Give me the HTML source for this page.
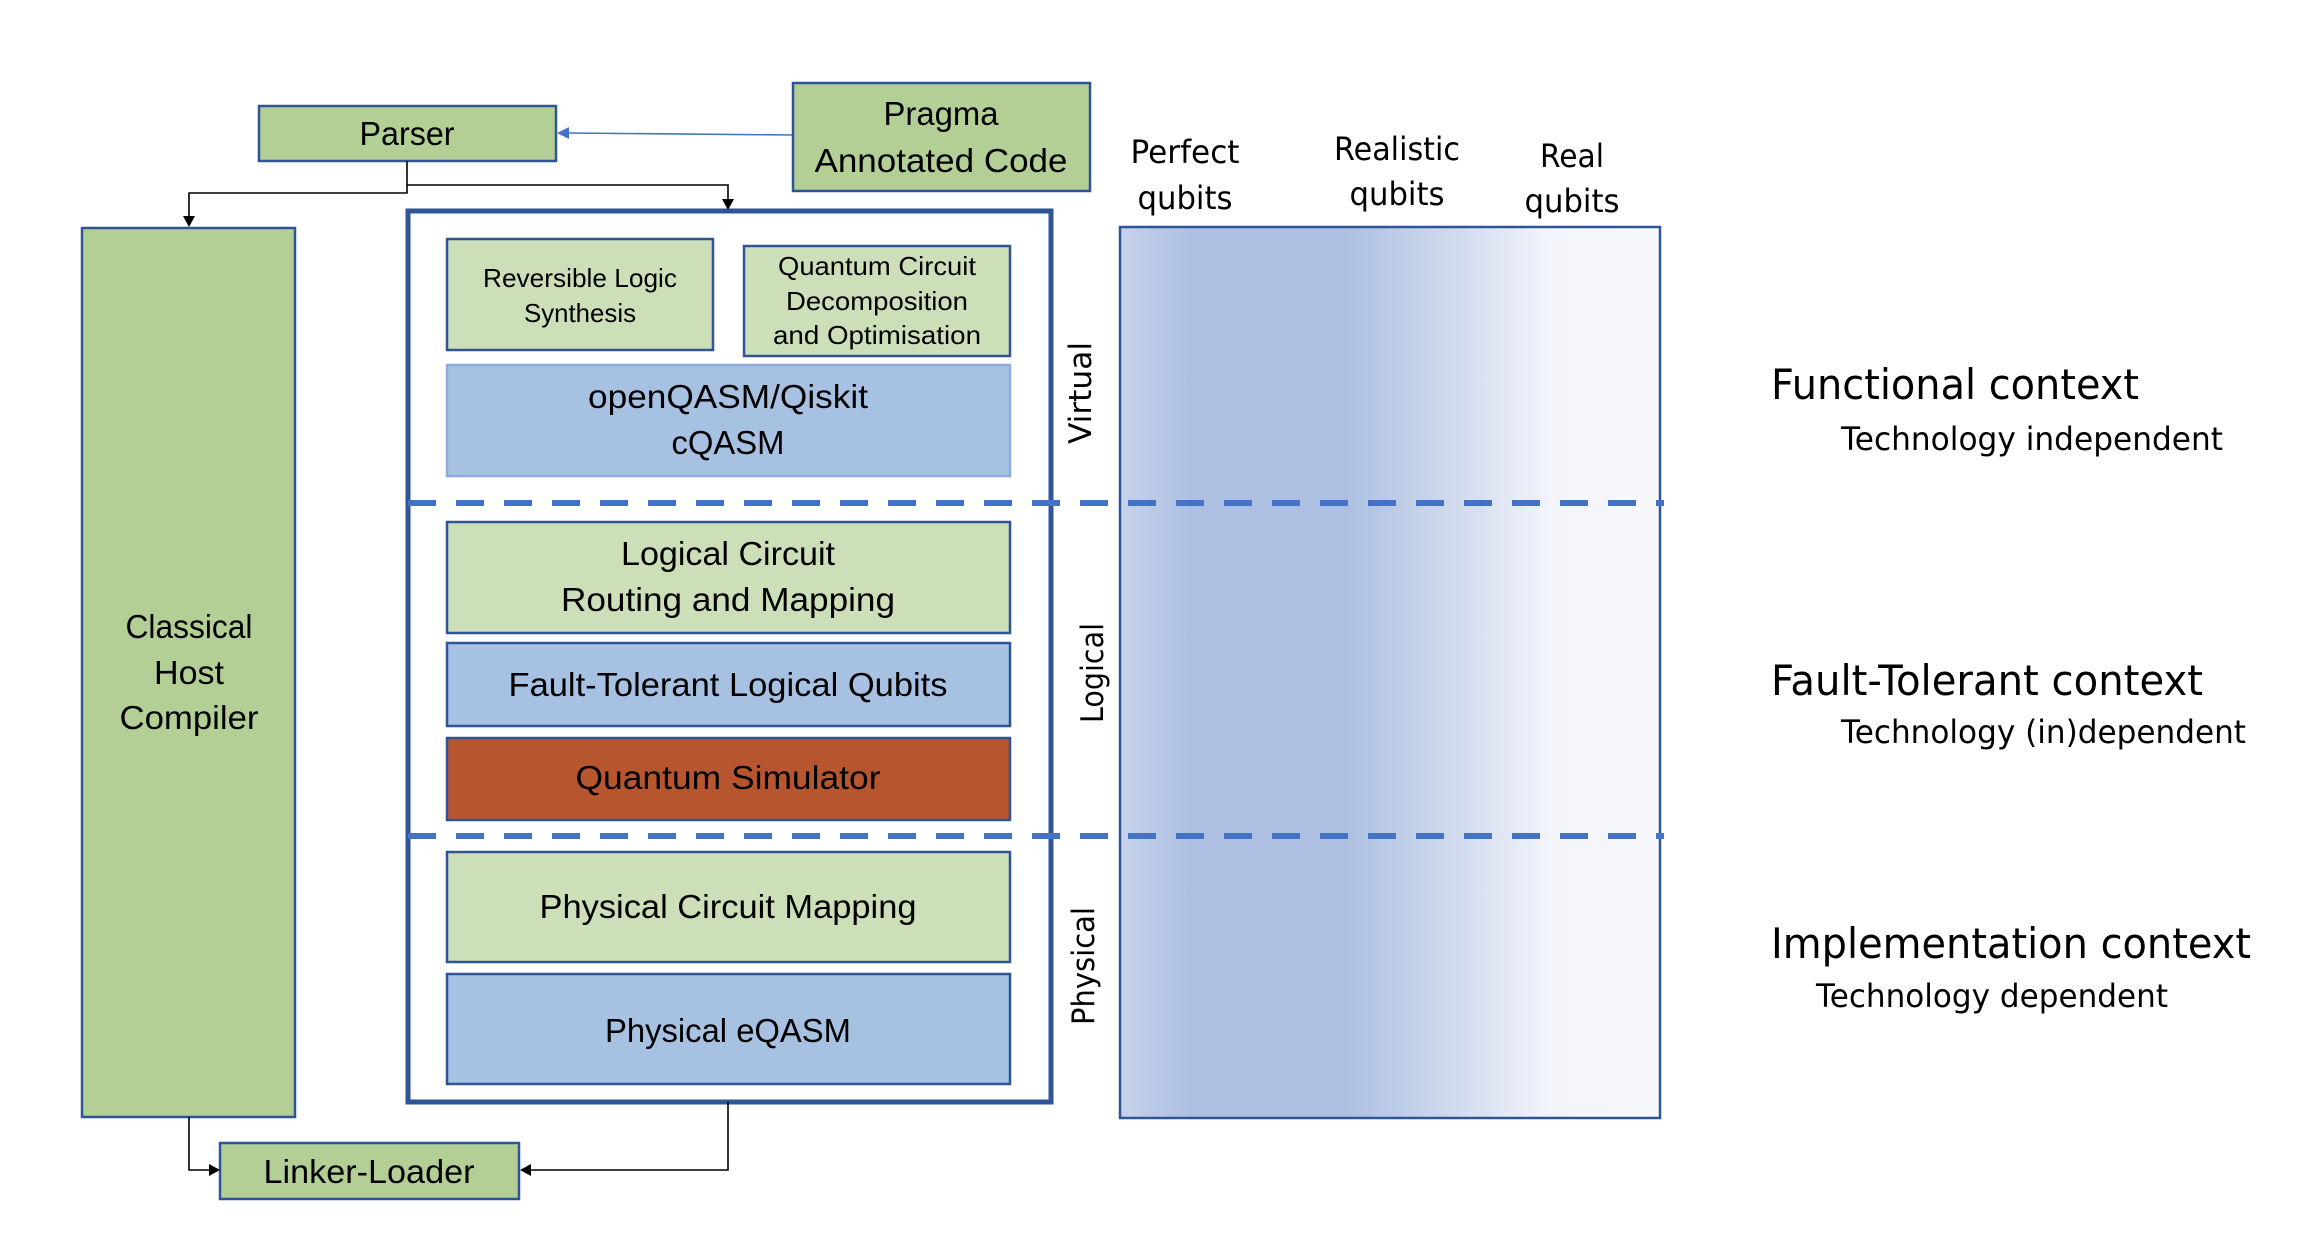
<!DOCTYPE html>
<html><head><meta charset="utf-8"><style>html,body{margin:0;padding:0;background:#fff}svg{display:block}</style></head>
<body>
<svg width="2304" height="1248" viewBox="0 0 2304 1248" xmlns="http://www.w3.org/2000/svg" font-family="Liberation Sans, sans-serif" fill="#000">
<defs>
<linearGradient id="g" x1="0" x2="1" y1="0" y2="0">
<stop offset="0" stop-color="#C6D2EA"/>
<stop offset="0.13" stop-color="#ADC0E1"/>
<stop offset="0.42" stop-color="#ADC0E1"/>
<stop offset="0.62" stop-color="#D0DAED"/>
<stop offset="0.8" stop-color="#F3F5FB"/>
<stop offset="1" stop-color="#F6F8FC"/>
</linearGradient>
</defs>
<g stroke="#2F5597" stroke-width="2.5">
<rect x="259" y="106" width="297" height="55" fill="#B3CF95"/>
<rect x="793" y="83" width="297" height="108" fill="#B3CF95"/>
<rect x="82" y="228" width="213" height="889" fill="#B3CF95"/>
<rect x="220" y="1143" width="299" height="56" fill="#B3CF95"/>
<rect x="1120" y="227" width="540" height="891" fill="url(#g)"/>
<rect x="408" y="211" width="643" height="891" fill="#fff" stroke-width="5"/>
<rect x="447" y="239" width="266" height="111" fill="#CCDFB8"/>
<rect x="744" y="246" width="266" height="110" fill="#CCDFB8"/>
<rect x="447" y="365" width="563" height="111" fill="#A6C1E1" stroke="#8FAADC"/>
<rect x="447" y="522" width="563" height="111" fill="#CCDFB8"/>
<rect x="447" y="643" width="563" height="83" fill="#A6C1E1"/>
<rect x="447" y="738" width="563" height="82" fill="#B7552F"/>
<rect x="447" y="852" width="563" height="110" fill="#CCDFB8"/>
<rect x="447" y="974" width="563" height="110" fill="#A6C1E1"/>
</g>
<g stroke="#4472C4" stroke-width="6" stroke-dasharray="28 20">
<line x1="408" y1="503" x2="1664" y2="503"/>
<line x1="408" y1="836" x2="1664" y2="836"/>
</g>
<g stroke="#000" stroke-width="1.6" fill="none">
<polyline points="407,161 407,185 728,185 728,200"/>
<polyline points="407,185 407,193 189,193 189,217"/>
<polyline points="189,1117 189,1170 210,1170"/>
<polyline points="728,1102 728,1170 530,1170"/>
</g>
<polygon points="722,199 734,199 728,210" fill="#000"/>
<polygon points="183,216 195,216 189,227" fill="#000"/>
<polygon points="209,1164 209,1176 220,1170" fill="#000"/>
<polygon points="531,1164 531,1176 520,1170" fill="#000"/>
<line x1="792" y1="135" x2="566" y2="133" stroke="#4472C4" stroke-width="1.6"/>
<polygon points="557,133 569,127 569,139" fill="#4472C4"/>
<g text-anchor="middle">
<text x="407" y="145" font-size="33" textLength="95" lengthAdjust="spacingAndGlyphs">Parser</text>
<text x="941" y="125" font-size="33" textLength="115" lengthAdjust="spacingAndGlyphs">Pragma</text>
<text x="941" y="172" font-size="33" textLength="253" lengthAdjust="spacingAndGlyphs">Annotated Code</text>
<text x="189" y="638" font-size="33" textLength="127" lengthAdjust="spacingAndGlyphs">Classical</text>
<text x="189" y="684" font-size="33" textLength="70" lengthAdjust="spacingAndGlyphs">Host</text>
<text x="189" y="729" font-size="33" textLength="139" lengthAdjust="spacingAndGlyphs">Compiler</text>
<text x="369" y="1183" font-size="33" textLength="211" lengthAdjust="spacingAndGlyphs">Linker-Loader</text>
<text x="580" y="287" font-size="26" textLength="194" lengthAdjust="spacingAndGlyphs">Reversible Logic</text>
<text x="580" y="322" font-size="26" textLength="112" lengthAdjust="spacingAndGlyphs">Synthesis</text>
<text x="877" y="275" font-size="26" textLength="198" lengthAdjust="spacingAndGlyphs">Quantum Circuit</text>
<text x="877" y="310" font-size="26" textLength="182" lengthAdjust="spacingAndGlyphs">Decomposition</text>
<text x="877" y="344" font-size="26" textLength="208" lengthAdjust="spacingAndGlyphs">and Optimisation</text>
<text x="728" y="408" font-size="33" textLength="280" lengthAdjust="spacingAndGlyphs">openQASM/Qiskit</text>
<text x="728" y="454" font-size="33" textLength="113" lengthAdjust="spacingAndGlyphs">cQASM</text>
<text x="728" y="565" font-size="33" textLength="214" lengthAdjust="spacingAndGlyphs">Logical Circuit</text>
<text x="728" y="611" font-size="33" textLength="334" lengthAdjust="spacingAndGlyphs">Routing and Mapping</text>
<text x="728" y="696" font-size="33" textLength="439" lengthAdjust="spacingAndGlyphs">Fault-Tolerant Logical Qubits</text>
<text x="728" y="789" font-size="33" textLength="305" lengthAdjust="spacingAndGlyphs">Quantum Simulator</text>
<text x="728" y="918" font-size="33" textLength="377" lengthAdjust="spacingAndGlyphs">Physical Circuit Mapping</text>
<text x="728" y="1042" font-size="33" textLength="246" lengthAdjust="spacingAndGlyphs">Physical eQASM</text>
</g>
<g font-family="DejaVu Sans, sans-serif" font-size="31" text-anchor="middle">
<text transform="translate(1091,393) rotate(-90)" textLength="102" lengthAdjust="spacingAndGlyphs">Virtual</text>
<text transform="translate(1103,673) rotate(-90)" textLength="100" lengthAdjust="spacingAndGlyphs">Logical</text>
<text transform="translate(1094,966) rotate(-90)" textLength="118" lengthAdjust="spacingAndGlyphs">Physical</text>
</g>
<g font-family="DejaVu Sans, sans-serif" font-size="32" text-anchor="middle">
<text x="1185" y="163" textLength="109" lengthAdjust="spacingAndGlyphs">Perfect</text>
<text x="1185" y="209" textLength="95" lengthAdjust="spacingAndGlyphs">qubits</text>
<text x="1397" y="160" textLength="126" lengthAdjust="spacingAndGlyphs">Realistic</text>
<text x="1397" y="205" textLength="95" lengthAdjust="spacingAndGlyphs">qubits</text>
<text x="1572" y="167" textLength="64" lengthAdjust="spacingAndGlyphs">Real</text>
<text x="1572" y="212" textLength="95" lengthAdjust="spacingAndGlyphs">qubits</text>
</g>
<g font-family="DejaVu Sans, sans-serif">
<text x="1771" y="399" font-size="42" textLength="368" lengthAdjust="spacingAndGlyphs">Functional context</text>
<text x="1841" y="450" font-size="32" textLength="382" lengthAdjust="spacingAndGlyphs">Technology independent</text>
<text x="1771" y="695" font-size="42" textLength="432" lengthAdjust="spacingAndGlyphs">Fault-Tolerant context</text>
<text x="1841" y="743" font-size="32" textLength="405" lengthAdjust="spacingAndGlyphs">Technology (in)dependent</text>
<text x="1771" y="958" font-size="42" textLength="480" lengthAdjust="spacingAndGlyphs">Implementation context</text>
<text x="1816" y="1007" font-size="32" textLength="352" lengthAdjust="spacingAndGlyphs">Technology dependent</text>
</g>
</svg>
</body></html>
